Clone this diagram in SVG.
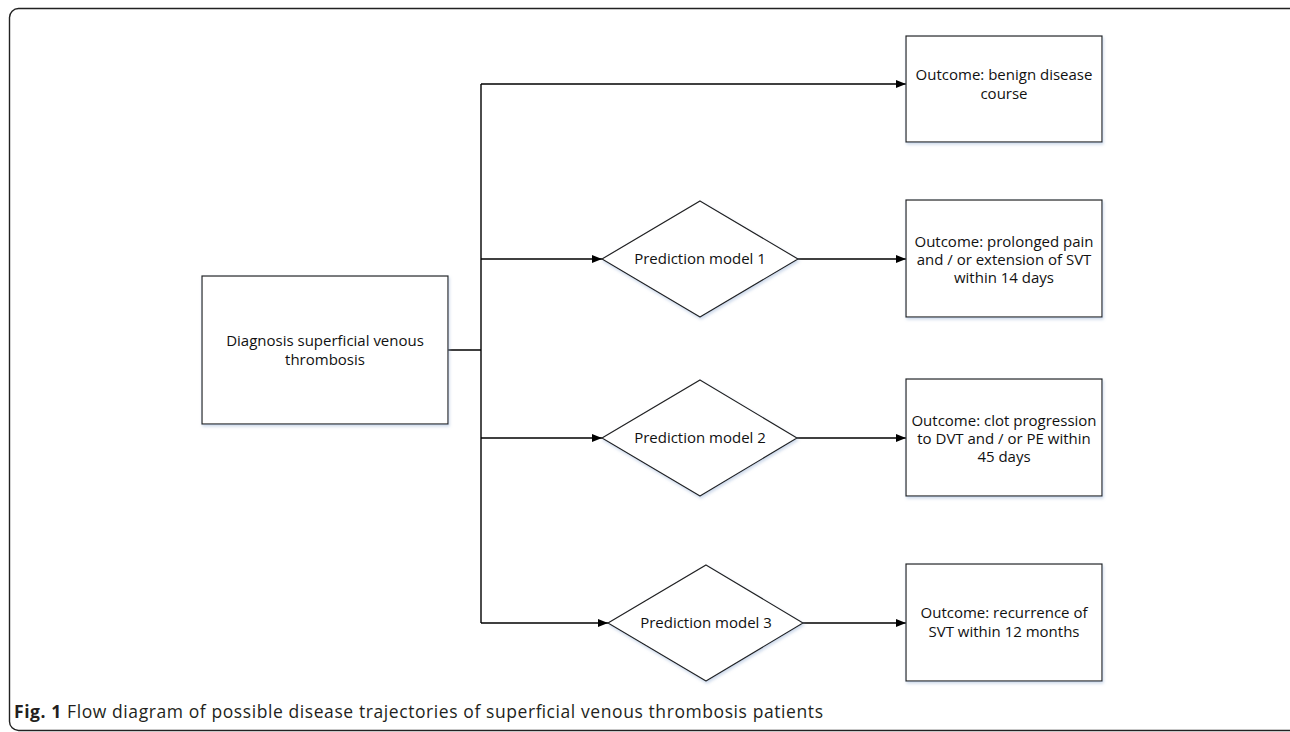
<svg xmlns="http://www.w3.org/2000/svg" width="1290" height="732" viewBox="0 0 1290 732">
<defs>
<marker id="arr" markerWidth="10" markerHeight="8" refX="10" refY="4" orient="auto" markerUnits="userSpaceOnUse">
<path d="M0,0 L10,4 L0,8 Z" fill="#000"/>
</marker>
<filter id="sh" x="-5%" y="-5%" width="110%" height="115%">
<feGaussianBlur in="SourceAlpha" stdDeviation="1.5"/>
<feOffset dx="1" dy="2" result="b"/>
<feFlood flood-color="#9db4d6" flood-opacity="0.5"/>
<feComposite in2="b" operator="in"/>
<feMerge><feMergeNode/><feMergeNode in="SourceGraphic"/></feMerge>
</filter>
</defs>
<style>
.node{fill:#fff;stroke:#222;stroke-width:1.2;filter:url(#sh)}
.lbl{font-family:"Open Sans","Noto Sans",sans-serif;font-size:15px;fill:#111;text-anchor:middle}
.conn{fill:none;stroke:#000;stroke-width:1.4}
.cap{font-family:"Open Sans","Liberation Sans",sans-serif;font-size:17.5px;fill:#231f20}
</style>
<rect x="9.5" y="8.5" width="1290" height="722" rx="9" fill="none" stroke="#222" stroke-width="1.4"/>
<g id="connectors">
<path class="conn" d="M448,350 H481"/>
<path class="conn" d="M481,84 V623"/>
<path class="conn" d="M481,84 H906" marker-end="url(#arr)"/>
<path class="conn" d="M481,259 H602" marker-end="url(#arr)"/>
<path class="conn" d="M481,438 H602" marker-end="url(#arr)"/>
<path class="conn" d="M481,623 H608" marker-end="url(#arr)"/>
<path class="conn" d="M798,259 H906" marker-end="url(#arr)"/>
<path class="conn" d="M797,438 H906" marker-end="url(#arr)"/>
<path class="conn" d="M803,623 H906" marker-end="url(#arr)"/>
</g>
<g id="diagnosis">
<rect class="node" x="202" y="276" width="246" height="148"/>
<text class="lbl" x="325" y="346">Diagnosis superficial venous</text>
<text class="lbl" x="325" y="365">thrombosis</text>
</g>
<g id="outcome-benign">
<rect class="node" x="906" y="36" width="196" height="106"/>
<text class="lbl" x="1004" y="80">Outcome: benign disease</text>
<text class="lbl" x="1004" y="99">course</text>
</g>
<g id="model1">
<polygon class="node" points="700,201 798,259 700,317 602,259"/>
<text class="lbl" x="700" y="264">Prediction model 1</text>
</g>
<g id="outcome-pain">
<rect class="node" x="906" y="200" width="196" height="117"/>
<text class="lbl" x="1004" y="247">Outcome: prolonged pain</text>
<text class="lbl" x="1004" y="265">and / or extension of SVT</text>
<text class="lbl" x="1004" y="283">within 14 days</text>
</g>
<g id="model2">
<polygon class="node" points="700,380 797,438 700,496 602,438"/>
<text class="lbl" x="700" y="443">Prediction model 2</text>
</g>
<g id="outcome-clot">
<rect class="node" x="906" y="379" width="196" height="117"/>
<text class="lbl" x="1004" y="426">Outcome: clot progression</text>
<text class="lbl" x="1004" y="444">to DVT and / or PE within</text>
<text class="lbl" x="1004" y="462">45 days</text>
</g>
<g id="model3">
<polygon class="node" points="706,565 803,623 706,681 608,623"/>
<text class="lbl" x="706" y="628">Prediction model 3</text>
</g>
<g id="outcome-recurrence">
<rect class="node" x="906" y="564" width="196" height="117"/>
<text class="lbl" x="1004" y="618">Outcome: recurrence of</text>
<text class="lbl" x="1004" y="637">SVT within 12 months</text>
</g>
<text class="cap" x="14" y="718" textLength="809" lengthAdjust="spacing"><tspan font-weight="bold">Fig. 1</tspan> Flow diagram of possible disease trajectories of superficial venous thrombosis patients</text>
</svg>
